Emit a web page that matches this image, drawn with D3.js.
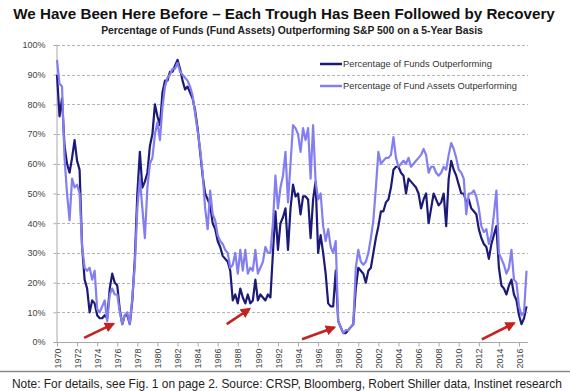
<!DOCTYPE html>
<html>
<head>
	<meta charset="utf-8">
	<script src="https://d3js.org/d3.v7.min.js"></script>
	<title>Funds outperforming S&amp;P 500</title>
	<style>
		body { margin: 0; background: #fff; }
		svg { display: block; font-family: Arial, "Liberation Sans", sans-serif; }
	</style>
</head>
<body>
	<div id="chart"></div>

	<script type="text/javascript">

		// quarterly sample points (year)
		var years = [];
		for (var yr = 1970; yr <= 2016; yr++) {
			years.push(yr, yr + 0.25, yr + 0.5, yr + 0.75);
		}

		// % of funds outperforming (dark line)
		var fundsPct = [
			90, 76, 82, 66,   60, 57, 62, 68,   61, 58, 32, 21,   18, 10, 14, 13,
			9, 8, 8, 9,       8, 18, 23, 20,    19, 11, 6, 9,     9, 6, 14, 28,
			50, 64, 52, 54,   57, 66, 70, 80,   76, 73, 84, 88,   88, 91, 91, 93,
			95, 92, 88, 85,   86, 84, 82, 78,   72, 64, 56, 50,   48, 46, 40, 38,
			34, 32, 29, 28,   27, 24, 14, 16,   13, 18, 15, 13,   16, 13, 14, 21,
			14, 16, 15, 14,   16, 15, 30, 44,   31, 40, 42, 45,   31, 45, 53, 49,
			50, 43, 49, 49,   48, 35, 48, 54,   30, 36, 30, 23,   13, 12, 12, 24,
			7, 5, 3, 3,       4, 5, 6, 18,      25, 24, 23, 20,   24, 25, 30, 35,
			39, 44, 44, 47,   48, 52, 58, 59,   59, 57, 56, 50,   55, 54, 53, 52,
			50, 45, 48, 50,   40, 45, 50, 48,   46, 47, 50, 39,   55, 61, 58, 56,
			53, 50, 50, 47,   48, 45, 44, 43,   38, 35, 33, 32,   28, 33, 36, 39,
			25, 19, 18, 16,   19, 21, 16, 14,   9, 6, 8, 12
		];

		// % of fund assets outperforming (light line)
		var assetsPct = [
			95, 87, 86, 62,   50, 41, 55, 52,   53, 50, 32, 25,   24, 25, 21, 24,
			11, 10, 12, 14,   7, 16, 18, 16,    16, 10, 6, 9,     10, 6, 15, 26,
			45, 55, 45, 35,   52, 60, 62, 70,   74, 68, 79, 86,   89, 90, 92, 92,
			94, 91, 90, 89,   88, 86, 83, 77,   71, 65, 57, 45,   38, 51, 43, 41,
			36, 34, 33, 31,   30, 25, 26, 30,   23, 31, 24, 31,   23, 25, 24, 31,
			23, 25, 27, 32,   30, 30, 40, 56,   45, 52, 56, 64,   47, 60, 73, 72,
			70, 64, 72, 68,   72, 55, 73, 54,   48, 50, 39, 34,   38, 32, 30, 34,
			7, 5, 3, 4,       4, 5, 6, 25,      31, 27, 26, 27,   30, 35, 41, 52,
			64, 60, 61, 62,   62, 63, 69, 62,   59, 60, 61, 60,   62, 59, 60, 61,
			62, 63, 65, 63,   57, 59, 59, 57,   56, 57, 59, 58,   63, 67, 65, 62,
			58, 57, 55, 43,   50, 50, 51, 49,   45, 39, 37, 38,   33, 36, 43, 51,
			30, 28, 26, 23,   25, 31, 21, 20,   12, 9, 10, 24
		];

		var yTicks = [0, 10, 20, 30, 40, 50, 60, 70, 80, 90, 100];
		var xTicks = d3.range(1970, 2017, 2);

		var seriesNames = ["Percentage of Funds Outperforming", "Percentage of Fund Assets Outperforming"];
		var seriesColors = ["#1b1a78", "#847ff0"];

		// red arrows pointing at the troughs: [fromYear, fromPct, toYear, toPct]
		var troughArrows = [
			[1972.7, 1.4, 1975.6, 6.1],
			[1986.9, 6.0, 1989.15, 11.1],
			[1994.4, 0.9, 1997.6, 4.9],
			[2012.3, 0.9, 2015.5, 6.3]
		];

		var titleText = "We Have Been Here Before \u2013 Each Trough Has Been Followed by Recovery";
		var subtitleText = "Percentage of Funds (Fund Assets) Outperforming S&P 500 on a 5-Year Basis";
		var noteText = "Note: For details, see Fig. 1 on page 2. Source: CRSP, Bloomberg, Robert Shiller data, Instinet research";

		var width = 570, height = 391;

		var svg = d3.select("#chart").append("svg")
			.attr("width", width)
			.attr("height", height);

		var x = d3.scaleLinear().domain([1970, 2016]).range([57, 519]);
		var y = d3.scaleLinear().domain([0, 100]).range([342, 45]);
		var xEnd = 528;

		// shrink/grow a text's font so it spans the wanted width
		function fitText(sel, size, wanted) {
			sel.style("font-size", size + "px");
			var w = sel.node().getComputedTextLength();
			sel.style("font-size", (size * wanted / w).toFixed(2) + "px");
		}

		// titles
		var title = svg.append("text")
			.attr("x", 284).attr("y", 19)
			.attr("text-anchor", "middle")
			.style("font-weight", "bold").style("fill", "#111")
			.text(titleText);
		fitText(title, 16, 542);

		var subtitle = svg.append("text")
			.attr("x", 292).attr("y", 34)
			.attr("text-anchor", "middle")
			.style("font-weight", "bold").style("fill", "#222")
			.text(subtitleText);
		fitText(subtitle, 11, 382);

		// grid lines
		svg.selectAll(".grid")
			.data(yTicks.filter(function(d){ return d > 0; }))
			.enter().append("line")
			.attr("class", "grid")
			.attr("x1", x(1970)).attr("x2", xEnd)
			.attr("y1", function(d){ return Math.round(y(d)) + 0.5; })
			.attr("y2", function(d){ return Math.round(y(d)) + 0.5; })
			.attr("stroke", "#b5b5b5")
			.attr("stroke-dasharray", "3,2");

		// y axis
		var yAxis = d3.axisLeft(y)
			.tickValues(yTicks)
			.tickSize(3)
			.tickPadding(8)
			.tickFormat(function(d){ return d + "%"; });

		var gy = svg.append("g")
			.attr("transform", "translate(" + (x(1970) - 0.5) + ",0)")
			.call(yAxis);
		gy.select(".domain").attr("stroke", "#aaa");
		gy.selectAll(".tick line").attr("stroke", "#aaa");
		gy.selectAll(".tick text")
			.style("font-size", "9px").style("fill", "#444")
			.style("font-family", "Arial, 'Liberation Sans', sans-serif");

		// x axis
		var xAxis = d3.axisBottom(x)
			.tickValues(xTicks)
			.tickSize(4)
			.tickSizeOuter(0)
			.tickFormat(d3.format("d"));

		var gx = svg.append("g")
			.attr("transform", "translate(0," + (y(0) + 0.5) + ")")
			.call(xAxis);
		gx.select(".domain").attr("d", "M" + x(1970) + ",0H" + xEnd).attr("stroke", "#aaa");
		gx.selectAll(".tick line").attr("stroke", "#aaa");
		gx.selectAll(".tick text")
			.attr("transform", "rotate(-90)")
			.attr("text-anchor", "end")
			.attr("x", -6).attr("y", 0).attr("dy", "0.35em")
			.style("font-size", "9px").style("fill", "#444")
			.style("font-family", "Arial, 'Liberation Sans', sans-serif");

		// lines
		var line = d3.line()
			.x(function(d){ return x(d[0]); })
			.y(function(d){ return y(d[1]); });

		var fundsData = years.map(function(yr, i){ return [yr, fundsPct[i]]; });
		var assetsData = years.map(function(yr, i){ return [yr, assetsPct[i]]; });

		svg.append("path")
			.datum(fundsData)
			.attr("d", line)
			.attr("fill", "none")
			.attr("stroke", seriesColors[0])
			.attr("stroke-width", 2.2)
			.attr("stroke-linejoin", "round");

		svg.append("path")
			.datum(assetsData)
			.attr("d", line)
			.attr("fill", "none")
			.attr("stroke", seriesColors[1])
			.attr("stroke-width", 2.2)
			.attr("stroke-linejoin", "round");

		// legend
		var legend = svg.selectAll(".legend")
			.data(seriesNames)
			.enter().append("g")
			.attr("class", "legend")
			.attr("transform", function(d, i){ return "translate(320," + (64 + i * 22) + ")"; });

		legend.append("line")
			.attr("x1", 0).attr("x2", 22)
			.attr("stroke", function(d, i){ return seriesColors[i]; })
			.attr("stroke-width", 2.5);

		legend.append("text")
			.attr("x", 23).attr("dy", "0.33em")
			.style("fill", "#333")
			.text(function(d){ return d; })
			.each(function(d, i){ fitText(d3.select(this), 9, i == 0 ? 149 : 174); });

		// arrows
		svg.append("defs").append("marker")
			.attr("id", "arrowhead")
			.attr("viewBox", "0 0 10 10")
			.attr("refX", 8).attr("refY", 5)
			.attr("markerWidth", 4).attr("markerHeight", 4)
			.attr("orient", "auto")
			.append("path")
			.attr("d", "M0,0L10,5L0,10z")
			.attr("fill", "#c3231c");

		svg.selectAll(".arrow")
			.data(troughArrows)
			.enter().append("line")
			.attr("class", "arrow")
			.attr("x1", function(d){ return x(d[0]); })
			.attr("y1", function(d){ return y(d[1]); })
			.attr("x2", function(d){ return x(d[2]); })
			.attr("y2", function(d){ return y(d[3]); })
			.attr("stroke", "#c3231c")
			.attr("stroke-width", 2.6)
			.attr("marker-end", "url(#arrowhead)");

		// footer
		svg.append("line")
			.attr("x1", 0).attr("x2", width)
			.attr("y1", 371.5).attr("y2", 371.5)
			.attr("stroke", "#888").attr("stroke-width", 1.5);

		var note = svg.append("text")
			.attr("x", 12).attr("y", 388)
			.style("fill", "#222")
			.text(noteText);
		fitText(note, 12, 550);

	</script>
</body>
</html>
